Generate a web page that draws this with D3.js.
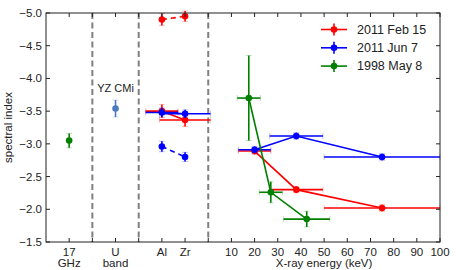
<!DOCTYPE html>
<html>
<head>
<meta charset="utf-8">
<script src="https://cdn.jsdelivr.net/npm/d3@7"></script>
<style>
  body { margin: 0; background: #fff; }
  svg text { font-family: "Liberation Sans", Arial, Helvetica, sans-serif; fill: #222; }
</style>
</head>
<body>
<script>
// axis ticks (x positions are in "chart units": radio/optical/filter columns sit at negative x)
var xTicks = d3.range(-60, 101, 10);
var xTickLabels = {'-60': ['17', 'GHz'], '-40': ['U', 'band'], '-20': ['Al'], '-10': ['Zr'],
  '10': ['10'], '20': ['20'], '30': ['30'], '40': ['40'], '50': ['50'], '60': ['60'],
  '70': ['70'], '80': ['80'], '90': ['90'], '100': ['100']};
var yTicks = [-5.0, -4.5, -4.0, -3.5, -3.0, -2.5, -2.0, -1.5];
var dividers = [-50, -30, 0];

// filter columns
var filterX = [-20, -10];
var filterXerr = [7, 11];

// 2011 Feb 15 (red)
var febFiltHiY = [-4.90, -4.95], febFiltHiErr = [0.09, 0.08];
var febFiltLoY = [-3.50, -3.365], febFiltLoErr = [0.10, 0.10];
var febX = [20, 38, 75], febXerr = [7, 11.5, 25];
var febY = [-2.89, -2.30, -2.02], febYerr = [0.05, 0.05, 0.05];

// 2011 Jun 7 (blue)
var junFiltHiY = [-3.48, -3.46], junFiltHiErr = [0.07, 0.06];
var junFiltLoY = [-2.96, -2.80], junFiltLoErr = [0.08, 0.07];
var junX = [20, 38, 75], junXerr = [7, 11.5, 25];
var junY = [-2.91, -3.12, -2.80], junYerr = [0.05, 0.05, 0.05];

// 1998 May 8 (green)
var mayRadioX = -60, mayRadioY = -3.05, mayRadioErr = 0.11;
var mayX = [17.5, 27, 42.5], mayXerr = [5, 5, 10];
var mayY = [-3.70, -2.26, -1.85], mayYerr = [0.65, 0.16, 0.12];

// YZ CMi U band
var yzX = -40, yzY = -3.54, yzErr = 0.13;

var legendLabels = ['2011 Feb 15', '2011 Jun 7', '1998 May 8'];
var legendColors = ['#ff0000', '#0000ff', '#008000'];

var W = 463, H = 270;
var m = {left: 46, right: 23, top: 13, bottom: 28};

var svg = d3.select('body').append('svg')
  .attr('width', W).attr('height', H);

var x = d3.scaleLinear().domain([-70, 100]).range([m.left, W - m.right]);
var y = d3.scaleLinear().domain([-5, -1.5]).range([m.top, H - m.bottom]);

var plot = svg.append('g');

// dashed separators
plot.selectAll('line.div')
  .data(dividers)
  .enter().append('line')
  .attr('x1', d => x(d)).attr('x2', d => x(d))
  .attr('y1', y(-5)).attr('y2', y(-1.5))
  .attr('stroke', '#808080').attr('stroke-width', 2)
  .attr('stroke-dasharray', '6,3.5');

function errPoint(g, cx, cy, xe, ye, color) {
  var capC = color;
  if (xe) {
    var x0 = x(cx - xe), x1 = Math.min(x(cx + xe), x(100));
    g.append('line').attr('x1', x0).attr('x2', x1).attr('y1', y(cy)).attr('y2', y(cy))
      .attr('stroke', color).attr('stroke-width', 1.6);
    [x0, x1].forEach(function (xx) {
      g.append('line').attr('x1', xx).attr('x2', xx).attr('y1', y(cy) - 3).attr('y2', y(cy) + 3)
        .attr('stroke', capC).attr('stroke-opacity', 0.25).attr('stroke-width', 1);
    });
  }
  if (ye) {
    g.append('line').attr('x1', x(cx)).attr('x2', x(cx)).attr('y1', y(cy - ye)).attr('y2', y(cy + ye))
      .attr('stroke', color).attr('stroke-width', 1.6);
    [cy - ye, cy + ye].forEach(function (yy) {
      g.append('line').attr('x1', x(cx) - 3).attr('x2', x(cx) + 3).attr('y1', y(yy)).attr('y2', y(yy))
        .attr('stroke', capC).attr('stroke-opacity', 0.25).attr('stroke-width', 1);
    });
  }
  g.append('circle').attr('cx', x(cx)).attr('cy', y(cy)).attr('r', 3.3).attr('fill', color);
}

function connect(g, xs, ys, color, dash) {
  var line = d3.line().x(d => x(d[0])).y(d => y(d[1]));
  g.append('path').datum(xs.map((v, i) => [v, ys[i]]))
    .attr('d', line).attr('fill', 'none').attr('stroke', color).attr('stroke-width', 1.6)
    .attr('stroke-dasharray', dash || null);
}

var red = legendColors[0], blue = legendColors[1], green = legendColors[2];

// red
connect(plot, filterX, febFiltHiY, red, '5,4');
filterX.forEach((v, i) => errPoint(plot, v, febFiltHiY[i], 0, febFiltHiErr[i], red));
connect(plot, filterX, febFiltLoY, red);
filterX.forEach((v, i) => errPoint(plot, v, febFiltLoY[i], filterXerr[i], febFiltLoErr[i], red));
connect(plot, febX, febY, red);
febX.forEach((v, i) => errPoint(plot, v, febY[i], febXerr[i], febYerr[i], red));

// blue
connect(plot, filterX, junFiltLoY, blue, '5,4');
filterX.forEach((v, i) => errPoint(plot, v, junFiltLoY[i], 0, junFiltLoErr[i], blue));
connect(plot, filterX, junFiltHiY, blue);
filterX.forEach((v, i) => errPoint(plot, v, junFiltHiY[i], filterXerr[i], junFiltHiErr[i], blue));
connect(plot, junX, junY, blue);
junX.forEach((v, i) => errPoint(plot, v, junY[i], junXerr[i], junYerr[i], blue));

// green
errPoint(plot, mayRadioX, mayRadioY, 0, mayRadioErr, green);
connect(plot, mayX, mayY, green);
mayX.forEach((v, i) => errPoint(plot, v, mayY[i], mayXerr[i], mayYerr[i], green));

// YZ CMi
errPoint(plot, yzX, yzY, 0, yzErr, '#4a7bc0');
plot.append('text').attr('x', x(yzX)).attr('y', y(yzY) - 17)
  .attr('text-anchor', 'middle').style('font-size', '11px').text('YZ CMi');

// frame + ticks
var frame = svg.append('g');
frame.append('rect').attr('x', x(-70)).attr('y', y(-5))
  .attr('width', x(100) - x(-70)).attr('height', y(-1.5) - y(-5))
  .attr('fill', 'none').attr('stroke', '#222').attr('stroke-width', 1);

var tl = 4;
xTicks.forEach(function (t) {
  frame.append('line').attr('x1', x(t)).attr('x2', x(t)).attr('y1', y(-1.5)).attr('y2', y(-1.5) - tl)
    .attr('stroke', '#222');
  frame.append('line').attr('x1', x(t)).attr('x2', x(t)).attr('y1', y(-5)).attr('y2', y(-5) + tl)
    .attr('stroke', '#222');
  var lab = xTickLabels[String(t)];
  if (lab) {
    var tx = frame.append('text').attr('x', x(t)).attr('y', y(-1.5) + 14)
      .attr('text-anchor', 'middle').style('font-size', '11.5px');
    lab.forEach(function (s, i) {
      tx.append('tspan').attr('x', x(t)).attr('dy', i ? 10.5 : 0).text(s);
    });
  }
});
yTicks.forEach(function (t) {
  frame.append('line').attr('x1', x(-70)).attr('x2', x(-70) + tl).attr('y1', y(t)).attr('y2', y(t))
    .attr('stroke', '#222');
  frame.append('line').attr('x1', x(100)).attr('x2', x(100) - tl).attr('y1', y(t)).attr('y2', y(t))
    .attr('stroke', '#222');
  frame.append('text').attr('x', x(-70) - 4).attr('y', y(t)).attr('dy', '0.35em')
    .attr('text-anchor', 'end').style('font-size', '11.5px')
    .text(d3.format('.1f')(t).replace('-', '\u2212'));
});

svg.append('text').attr('transform', 'translate(12,' + ((y(-5) + y(-1.5)) / 2) + ') rotate(-90)')
  .attr('text-anchor', 'middle').style('font-size', '11.5px').text('spectral index');
svg.append('text').attr('x', (x(0) + x(100)) / 2).attr('y', 267)
  .attr('text-anchor', 'middle').style('font-size', '11.5px').text('X-ray energy (keV)');

// legend
var leg = svg.append('g');
legendLabels.forEach(function (s, i) {
  var ly = 29.5 + i * 18.3;
  var c = legendColors[i];
  leg.append('line').attr('x1', 321).attr('x2', 347).attr('y1', ly).attr('y2', ly)
    .attr('stroke', c).attr('stroke-width', 1.6);
  leg.append('line').attr('x1', 334).attr('x2', 334).attr('y1', ly - 6).attr('y2', ly + 6)
    .attr('stroke', c).attr('stroke-width', 1.6);
  leg.append('circle').attr('cx', 334).attr('cy', ly).attr('r', 3.3).attr('fill', c);
  leg.append('text').attr('x', 357).attr('y', ly).attr('dy', '0.35em')
    .style('font-size', '12.5px').text(s);
});
</script>
</body>
</html>
